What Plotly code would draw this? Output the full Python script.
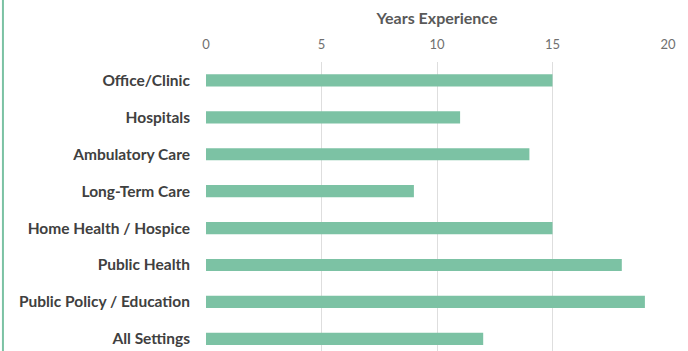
import plotly.graph_objects as go

categories = ["Office/Clinic", "Hospitals", "Ambulatory Care", "Long-Term Care",
              "Home Health / Hospice", "Public Health", "Public Policy / Education",
              "All Settings"]
years = [15, 11, 14, 9, 15, 18, 19, 12]
tick_vals = [0, 5, 10, 15, 20]

fig = go.Figure()
fig.add_trace(go.Bar(
    y=categories, x=years, orientation="h",
    marker=dict(color="#7cc2a4", line=dict(width=0)),
    width=0.33,
))

fig.update_layout(
    width=688, height=351,
    margin=dict(l=206, r=20, t=62, b=0),
    paper_bgcolor="white", plot_bgcolor="white",
    showlegend=False,
    font=dict(family="Lato", color="#404040"),
    xaxis=dict(
        side="top", range=[0, 20], tickvals=tick_vals, automargin=False,
        showgrid=True, gridcolor="#dedede", gridwidth=1,
        zeroline=False, showline=False,
        tickfont=dict(size=13, color="#707070"),
        title=dict(text="<b>Years Experience</b>", font=dict(size=16, color="#595959"), standoff=7),
        ticks="", ticklabelstandoff=9,
    ),
    yaxis=dict(
        categoryorder="array", categoryarray=categories, automargin=False,
        range=[7.33, -0.5],
        showgrid=False, zeroline=False, showline=False,
        tickfont=dict(size=15.5, color="#404040", family="Lato", weight="bold"),
        ticks="", ticklabelstandoff=15,
    ),
    shapes=[dict(type="line", xref="paper", yref="paper",
                 x0=-0.4395, x1=-0.4395, y0=0, y1=1.3,
                 line=dict(color="#7cc2a4", width=2))],
)

fig.write_html("out.html", config={"displayModeBar": False},
               post_script="document.body.style.margin='0px';document.body.style.overflow='hidden';")
